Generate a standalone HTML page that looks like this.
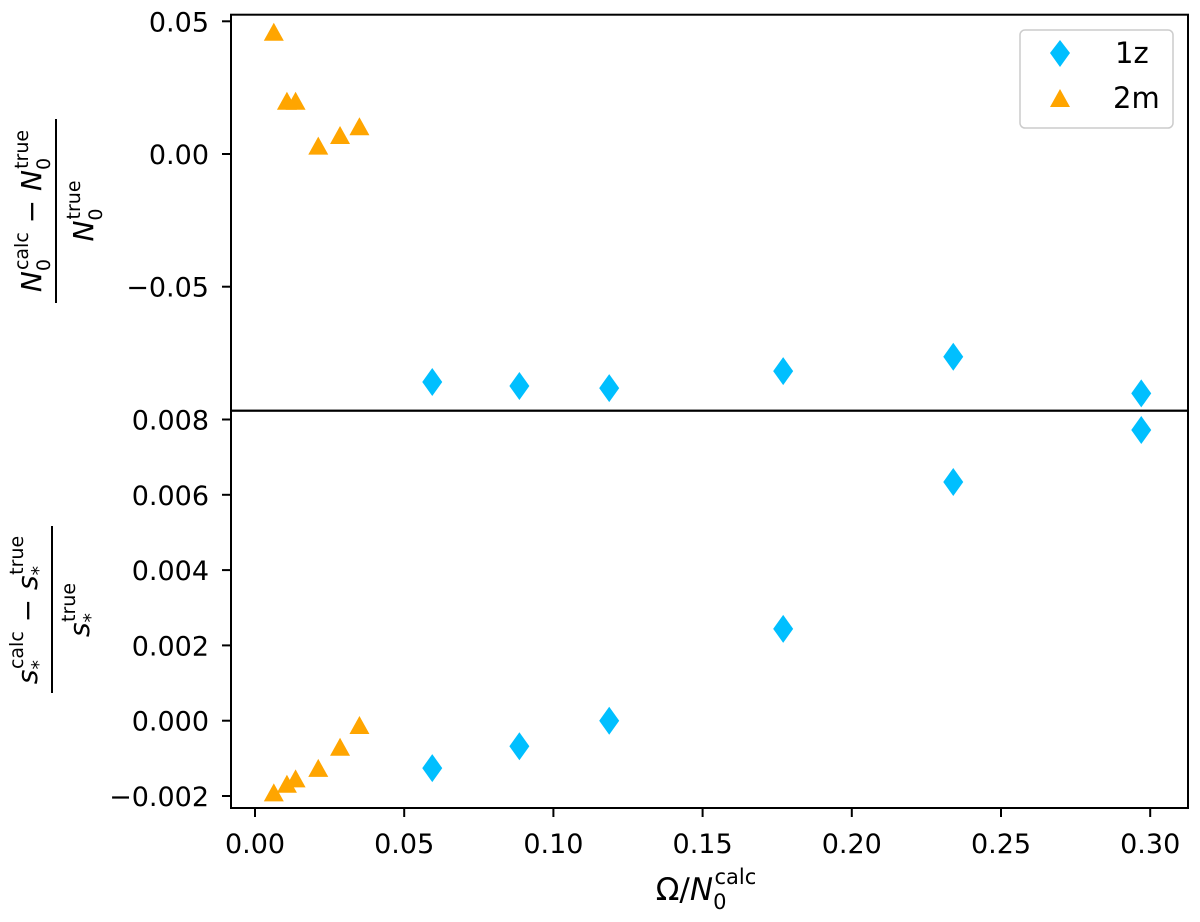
<!DOCTYPE html>
<html><head><meta charset="utf-8"><style>
html,body{margin:0;padding:0;background:#fff}
svg{display:block;font-family:"DejaVu Sans","Liberation Sans",sans-serif}
</style></head><body>
<svg id="chart" width="1200" height="922" xmlns="http://www.w3.org/2000/svg">
<g id="axes"></g>
<g id="marks"></g>
<g font-size="28" fill="#000">
  <line x1="56" y1="119" x2="56" y2="303" stroke="#000" stroke-width="2"/>
  <text transform="translate(41,211) rotate(-90)" text-anchor="middle"><tspan font-style="italic">N</tspan><tspan font-size="19" dy="9">0</tspan><tspan font-size="19" dy="-22" dx="-11">calc</tspan><tspan dy="13"> − </tspan><tspan font-style="italic">N</tspan><tspan font-size="19" dy="9">0</tspan><tspan font-size="19" dy="-22" dx="-11">true</tspan></text>
  <text transform="translate(93,211) rotate(-90)" text-anchor="middle"><tspan font-style="italic">N</tspan><tspan font-size="19" dy="9">0</tspan><tspan font-size="19" dy="-22" dx="-11">true</tspan></text>
</g>
<g font-size="28" fill="#000">
  <line x1="52" y1="526" x2="52" y2="693" stroke="#000" stroke-width="2"/>
  <text transform="translate(37,610) rotate(-90)" text-anchor="middle"><tspan font-style="italic">s</tspan><tspan font-size="19" dy="8">*</tspan><tspan font-size="19" dy="-22" dx="-9">calc</tspan><tspan dy="14"> − </tspan><tspan font-style="italic">s</tspan><tspan font-size="19" dy="8">*</tspan><tspan font-size="19" dy="-22" dx="-9">true</tspan></text>
  <text transform="translate(89,610) rotate(-90)" text-anchor="middle"><tspan font-style="italic">s</tspan><tspan font-size="19" dy="8">*</tspan><tspan font-size="19" dy="-22" dx="-9">true</tspan></text>
</g>
<text x="706" y="900" font-size="31" text-anchor="middle">Ω/<tspan font-style="italic">N</tspan><tspan font-size="21" dy="9">0</tspan><tspan font-size="21" dy="-25" dx="-12">calc</tspan></text>
<g>
  <rect x="1020" y="30" width="153" height="98" rx="5" fill="#fff" stroke="#ccc" stroke-width="1.5"/>
  <polygon points="1060,40 1070,53 1060,67 1050,53" fill="#00bfff"/>
  <text x="1115" y="63" font-size="29">1z</text>
  <polygon points="1060,89 1070,107 1050,107" fill="#ffa500"/>
  <text x="1113" y="108" font-size="29">2m</text>
</g>
</svg>
<script>
const xTicks = [0, 0.05, 0.10, 0.15, 0.20, 0.25, 0.30];
const xTickLabels = ["0.00","0.05","0.10","0.15","0.20","0.25","0.30"];
const topTicks = [0.05, 0, -0.05];
const topTickLabels = ["0.05","0.00","−0.05"];
const botTicks = [0.008,0.006,0.004,0.002,0,-0.002];
const botTickLabels = ["0.008","0.006","0.004","0.002","0.000","−0.002"];
const x1z = [0.0594, 0.0886, 0.1187, 0.177, 0.234, 0.297];
const top1z = [-0.0859, -0.0874, -0.0882, -0.0818, -0.0764, -0.0902];
const bot1z = [-0.00126, -0.00068, 0.0, 0.00244, 0.00634, 0.00772];
const x2m = [0.0063, 0.0107, 0.0136, 0.0212, 0.0285, 0.035];
const top2m = [0.0457, 0.0197, 0.0197, 0.0028, 0.0068, 0.0101];
const bot2m = [-0.00193, -0.0017, -0.00156, -0.00128, -0.00072, -0.00014];

const NS="http://www.w3.org/2000/svg";
const L=231, R=1188, T=14.7, M=410.7, B=808;
const xs = v => 255 + v*(149.2/0.05);
const ysTop = v => 154 - v*(132.7/0.05);
const ysBot = v => 720.7 - v*(75.3/0.002);
function mk(tag, attrs, parent){const e=document.createElementNS(NS,tag);for(const k in attrs)e.setAttribute(k,attrs[k]);parent.appendChild(e);return e;}
const axes=document.getElementById('axes'), marks=document.getElementById('marks');
let e;
e=mk('rect',{x:L,y:T,width:R-L,height:M-T,fill:'none',stroke:'#000','stroke-width':2},axes);


e=mk('rect',{x:L,y:M,width:R-L,height:B-M,fill:'none',stroke:'#000','stroke-width':2},axes);


xTicks.forEach((v,i)=>{
  const x=xs(v);
  e=mk('line',{x1:x,y1:B,x2:x,y2:B+9,stroke:'#000','stroke-width':2},axes);
  
  
  e=mk('text',{x:x,y:B+45,'font-size':27,'text-anchor':'middle'},axes);
  e.textContent=xTickLabels[i];
  
  
});
function yTicks(ticks,labels,fn,nm){
  ticks.forEach((v,i)=>{
    const y=fn(v);
    e=mk('line',{x1:L-9,y1:y,x2:L,y2:y,stroke:'#000','stroke-width':2},axes);
    
    
    e=mk('text',{x:L-22,y:y+10,'font-size':27,'text-anchor':'end'},axes);
    e.textContent=labels[i];
    
    
  });
}
yTicks(topTicks,topTickLabels,ysTop,'top-y');
yTicks(botTicks,botTickLabels,ysBot,'bottom-y');
function diamond(x,y){return `${x},${y-14} ${x+10},${y} ${x},${y+14} ${x-10},${y}`;}
function tri(x,y){return `${x},${y-10} ${x+10},${y+8} ${x-10},${y+8}`;}
x1z.forEach((v,i)=>{
  e=mk('polygon',{points:diamond(xs(v),ysTop(top1z[i])),fill:'#00bfff'},marks);
  
  
  e=mk('polygon',{points:diamond(xs(v),ysBot(bot1z[i])),fill:'#00bfff'},marks);
  
  
});
x2m.forEach((v,i)=>{
  e=mk('polygon',{points:tri(xs(v),ysTop(top2m[i])),fill:'#ffa500'},marks);
  
  
  e=mk('polygon',{points:tri(xs(v),ysBot(bot2m[i])),fill:'#ffa500'},marks);
  
  
});
</script>
</body></html>
